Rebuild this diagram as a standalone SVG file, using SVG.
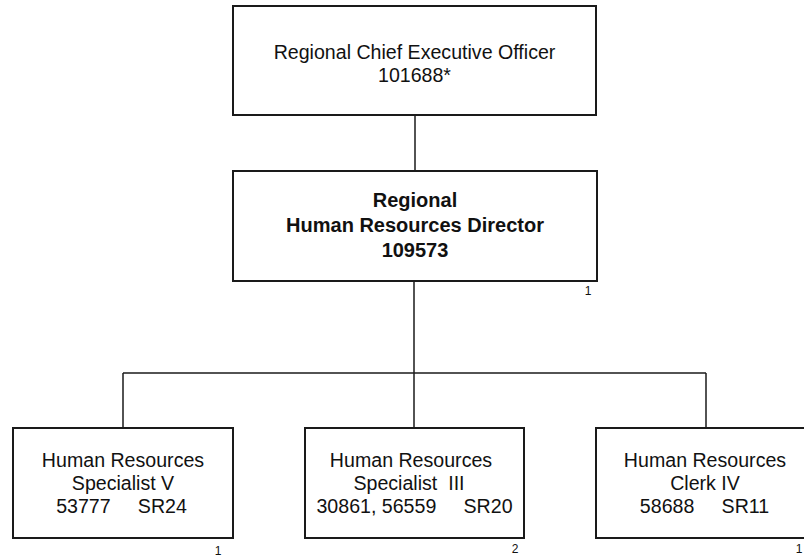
<svg xmlns="http://www.w3.org/2000/svg" width="804" height="558" viewBox="0 0 804 558">
<style>
  .box { fill: #ffffff; stroke: #1a1a1a; stroke-width: 2; }
  .conn { stroke: #1a1a1a; stroke-width: 1.5; fill: none; }
  .t { font-family: "Liberation Sans", Arial, sans-serif; font-size: 19.6px; fill: #111; text-anchor: middle; }
  .b { font-weight: bold; font-size: 20px; }
  .fn { font-family: "Liberation Sans", Arial, sans-serif; font-size: 12px; fill: #111; text-anchor: middle; }
</style>
<rect width="804" height="558" fill="#ffffff"/>
<g id="connectors">
  <line class="conn" x1="415" y1="115" x2="415" y2="171"/>
  <line class="conn" x1="414" y1="281" x2="414" y2="373"/>
  <line class="conn" x1="123" y1="373" x2="706" y2="373"/>
  <line class="conn" x1="123" y1="373" x2="123" y2="428"/>
  <line class="conn" x1="414" y1="373" x2="414" y2="428"/>
  <line class="conn" x1="706" y1="373" x2="706" y2="428"/>
</g>
<g id="node-ceo">
  <rect class="box" x="233" y="6" width="363" height="109"/>
  <text class="t" x="414.5" y="59">Regional Chief Executive Officer</text>
  <text class="t" x="414.5" y="82">101688*</text>
</g>
<g id="node-director">
  <rect class="box" x="233" y="171" width="364" height="110"/>
  <text class="t b" x="415" y="207">Regional</text>
  <text class="t b" x="415" y="232">Human Resources Director</text>
  <text class="t b" x="415" y="257">109573</text>
  <text class="fn" x="588" y="295">1</text>
</g>
<g id="node-specialist-v">
  <rect class="box" x="13" y="428" width="220" height="110"/>
  <text class="t" x="123" y="467">Human Resources</text>
  <text class="t" x="123" y="490">Specialist V</text>
  <text class="t" x="121.5" y="513" xml:space="preserve">53777     SR24</text>
  <text class="fn" x="218" y="555">1</text>
</g>
<g id="node-specialist-iii">
  <rect class="box" x="305" y="428" width="219" height="110"/>
  <text class="t" x="411" y="467">Human Resources</text>
  <text class="t" x="409" y="490" xml:space="preserve">Specialist  III</text>
  <text class="t" x="414.5" y="513" xml:space="preserve">30861, 56559     SR20</text>
  <text class="fn" x="515" y="553">2</text>
</g>
<g id="node-clerk-iv">
  <rect class="box" x="596" y="428" width="220" height="110"/>
  <text class="t" x="705" y="467">Human Resources</text>
  <text class="t" x="705" y="490">Clerk IV</text>
  <text class="t" x="704.5" y="513" xml:space="preserve">58688     SR11</text>
  <text class="fn" x="799" y="553">1</text>
</g>
</svg>
